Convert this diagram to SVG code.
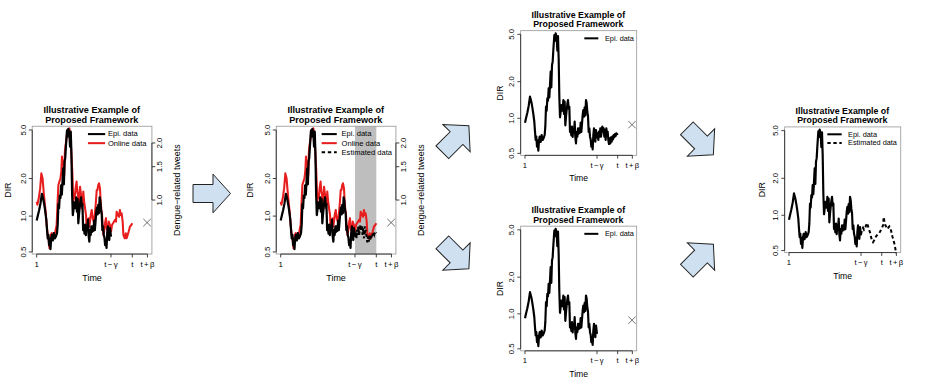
<svg xmlns="http://www.w3.org/2000/svg" width="932" height="387" viewBox="0 0 932 387">
<style>
text{font-family:"Liberation Sans",Arial,Helvetica,sans-serif;fill:#000}
.ttl{font-weight:bold;font-size:26.5px;text-anchor:middle}
.lab{font-size:26px}
.tk{font-size:23px}
.mid{text-anchor:middle}
.lg{font-size:22px}
.gap{letter-spacing:4px}
.box{fill:none;stroke:#9a9a9a;stroke-width:2.5}
.ax{fill:none;stroke:#222;stroke-width:2.5}
.epi{fill:none;stroke:#000;stroke-width:6.5;stroke-linejoin:round}
.onl{fill:none;stroke:#e81e1e;stroke-width:6;stroke-linejoin:round}
.est{fill:none;stroke:#000;stroke-width:6;stroke-dasharray:10 8}
.xm{fill:none;stroke:#555;stroke-width:2.5}
.shade{fill:#bebebe}
.arr{fill:#cfe0f1;stroke:#222;stroke-width:1}
</style>
<defs>
<path id="pA" d="M165,368 L168,355 L172,338 L176,318 L180,290 L184,305 L187,322 L190,342 L193,366 L195,395 L197,420 L199,410 L201,440 L203,422 L205,452 L207,422 L209,410 L212,426 L215,405 L218,420 L221,414 L224,405 L226,380 L228,320 L230,332 L232,295 L234,302 L236,265 L238,292 L240,255 L242,215 L244,262 L246,195 L248,185 L250,150 L253,105 L255,122 L257,100 L260,112 L262,152 L264,108 L266,175 L268,290 L270,352 L272,335 L274,315 L276,322 L278,332 L280,300 L282,342 L284,305 L286,376 L288,350 L290,330 L292,312 L294,300 L296,326 L298,320 L300,396 L302,385 L304,406 L306,380 L308,411 L310,385 L312,396 L314,365 L316,412 L318,430 L320,396 L322,410 L324,385 L326,401 L328,385 L330,398 L332,368 L334,396 L336,372 L338,345 L340,330 L342,350 L344,322 L346,346 L348,300 L350,310 L352,336 L354,348 L356,396 L358,385 L360,410 L362,418 L364,440 L366,425 L368,448 L370,405 L372,385 L374,410 L376,425 L378,390 L381,415"/>
<path id="pB" d="M381,415 L383,400 L385,420 L387,395 L389,410 L391,385 L393,410 L395,395 L397,380 L399,395 L401,385 L403,410 L405,390 L407,420 L409,385 L411,400 L413,395 L415,420 L417,432 L419,415 L421,430 L423,412 L425,425 L427,410 L429,418 L431,405 L433,412 L435,402 L437,408 L439,400 L441,402 L443,405"/>
<path id="pE" d="M381,412 L384,398 L387,392 L390,398 L393,394 L396,385 L399,378 L402,388 L405,398 L408,406 L411,420 L414,430 L417,435 L420,430 L423,424 L426,418 L429,414 L432,410 L435,408 L438,404 L441,398 L444,392 L447,385 L449,360 L451,372 L454,385 L457,390 L460,396 L463,392 L466,388 L469,392 L472,405 L475,418 L478,428 L481,440 L484,455 L486,468"/>
<path id="pO" d="M165,313 L167,322 L171,303 L175,274 L178.5,230 L182,244 L186,293 L190,332 L194,381 L197,410 L200,425 L202,449 L204,430 L206,410 L208.5,405 L211.5,410 L213.5,405 L216,410 L219,400 L223,381 L225,332 L228,264 L231,254 L234,244 L236.5,225 L238.5,181 L240.5,205 L242.5,196 L245,235 L247,166 L249,147 L252,127 L254,103 L257,103 L260,98 L263,118 L265,157 L267,196 L268.5,225 L271.5,313 L273.5,293 L275.5,303 L278,274 L281,254 L283,283 L285,293 L287,322 L289,293 L291,269 L294,293 L296,332 L298,322 L300.5,283 L302.5,308 L305.5,332 L308.5,352 L310,391 L312,371 L314,386 L316,361 L318,386 L320,371 L322,352 L325,337 L328,361 L330.5,371 L333.5,357 L336.5,322 L339.5,279 L341.5,279 L344,264 L346,259 L349,274 L351,313 L353,337 L355,352 L357,391 L359,410 L361,400 L362.5,386 L364.5,371 L366.5,361 L368.5,391 L371.5,400 L374.5,371 L378,381 L381,400 L384,381 L387,376 L390,371 L393,366 L395.5,371 L397.5,342 L401.5,352 L404.5,357 L407,337 L409,352 L412,347 L415,371 L417,410 L419,415 L421,420 L424,405 L426.5,420 L429.5,410 L432.5,400 L436,386 L440,381 L443,376"/>
<g id="axL">
<rect class="box" x="152" y="92" width="348" height="374"/>
<path class="ax" d="M152,103V460 M152,103h-10 M152,245h-10 M152,355h-10 M152,460h-10 M165,466H487 M165,466v10 M381,466v10 M443,466v10 M487,466v10"/>
<text class="tk mid" transform="translate(133,103) rotate(-90)">5.0</text>
<text class="tk mid" transform="translate(133,245) rotate(-90)">2.0</text>
<text class="tk mid" transform="translate(133,355) rotate(-90)">1.0</text>
<text class="tk mid" transform="translate(133,460) rotate(-90)">0.5</text>
<text class="tk mid" x="165" y="503">1</text>
<text class="tk mid gap" x="383" y="503">t−γ</text>
<text class="tk mid" x="443" y="503">t</text>
<text class="tk mid gap" x="489" y="503">t+β</text>
<text class="lab mid" x="326" y="544">Time</text>
<text class="ttl" x="325" y="54">Illustrative Example of</text>
<text class="ttl" x="325" y="81.5">Proposed Framework</text>
</g>
<g id="axR">
<path class="ax" d="M500,141V308 M500,141h10 M500,210.4h10 M500,308h10"/>
<text class="tk mid" transform="translate(529,141) rotate(-90)">2.0</text>
<text class="tk mid" transform="translate(529,210.4) rotate(-90)">1.5</text>
<text class="tk mid" transform="translate(529,308) rotate(-90)">1.0</text>
<text class="lab mid" transform="translate(581,279) rotate(-90)">Dengue−related tweets</text>
</g>
<path id="xmk" class="xm" d="M475,363L497,385M475,385L497,363"/>
<path id="arrow" d="M-20,-9H0V-19.3L17.5,0L0,19.3V9H-20Z"/>
</defs>
<rect width="932" height="387" fill="#fff"/>

<g id="panel1" transform="matrix(0.3439 0 0 0.3417 -20.04 94.8)">
<use href="#axL"/>
<use href="#axR"/>
<text class="lab mid" transform="translate(89,279) rotate(-90)">DIR</text>
<use href="#pO" class="onl"/>
<use href="#pA" class="epi"/>
<use href="#xmk"/>
<path d="M314,115H364" stroke="#000" stroke-width="6"/>
<path d="M314,141.5H364" stroke="#e81e1e" stroke-width="6"/>
<text class="lg" x="372" y="122">Epi. data</text>
<text class="lg" x="372" y="148.5">Online data</text>
</g>

<g id="panel2" transform="matrix(0.3439 0 0 0.3417 223.96 94.8)">
<rect class="shade" x="381" y="92" width="62" height="374"/>
<use href="#axL"/>
<use href="#axR"/>
<text class="lab mid" transform="translate(85,279) rotate(-90)">DIR</text>
<use href="#pO" class="onl"/>
<use href="#pA" class="epi"/>
<use href="#pB" class="est"/>
<use href="#xmk"/>
<path d="M284,115H328" stroke="#000" stroke-width="6"/>
<path d="M284,141.5H328" stroke="#e81e1e" stroke-width="6"/>
<path d="M284,168H328" class="est"/>
<text class="lg" x="342" y="122">Epi. data</text>
<text class="lg" x="342" y="148.5">Online data</text>
<text class="lg" x="342" y="175">Estimated data</text>
</g>

<g id="panel3a" transform="matrix(0.33333 0 0 0.33333 470 0)">
<use href="#axL"/>
<text class="lab mid" transform="translate(100,279) rotate(-90)">DIR</text>
<use href="#pA" class="epi"/>
<use href="#pB" class="epi"/>
<use href="#xmk"/>
<path d="M343,115H385" stroke="#000" stroke-width="6"/>
<text class="lg" x="405" y="122">Epi. data</text>
</g>

<g id="panel3b" transform="matrix(0.33333 0 0 0.33333 470 195.5)">
<use href="#axL"/>
<text class="lab mid" transform="translate(100,279) rotate(-90)">DIR</text>
<use href="#pA" class="epi"/>
<use href="#xmk"/>
<path d="M343,115H385" stroke="#000" stroke-width="6"/>
<text class="lg" x="405" y="122">Epi. data</text>
</g>

<g id="panel4" transform="matrix(0.3335 0 0 0.336 733.97 96)">
<use href="#axL"/>
<text class="lab mid" transform="translate(92,279) rotate(-90)">DIR</text>
<use href="#pA" class="epi"/>
<use href="#pE" class="est"/>
<path d="M280,114H323" stroke="#000" stroke-width="6"/>
<path d="M280,140H323" class="est"/>
<text class="lg" x="342" y="121">Epi. data</text>
<text class="lg" x="342" y="147">Estimated data</text>
</g>

<g id="connectors">
<use href="#arrow" class="arr" transform="translate(213,193.5)"/>
<use href="#arrow" class="arr" transform="translate(456.5,138.1) rotate(-45)"/>
<use href="#arrow" class="arr" transform="translate(456.5,256.5) rotate(45)"/>
<use href="#arrow" class="arr" transform="translate(701,142.5) rotate(45)"/>
<use href="#arrow" class="arr" transform="translate(701,256.5) rotate(-45)"/>
</g>
</svg>
